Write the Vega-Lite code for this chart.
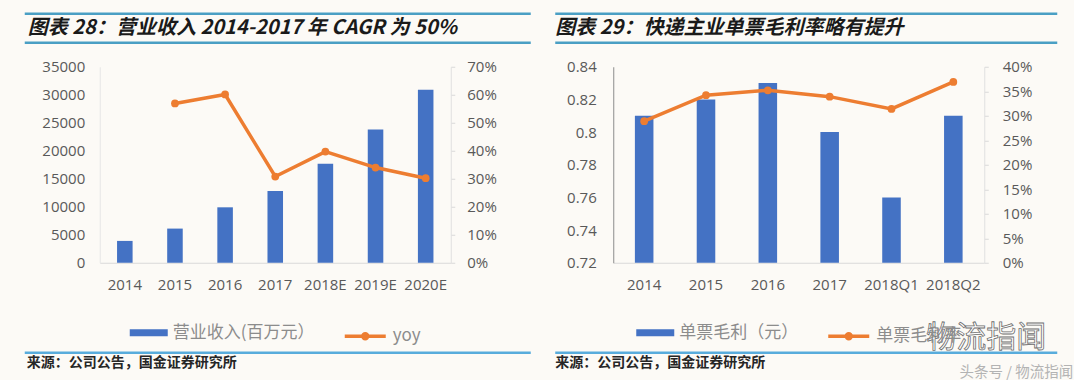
{
  "$schema": "https://vega.github.io/schema/vega-lite/v6.json",
  "background": "#fcfaf6",
  "padding": {"left": 22.75, "top": 11.75, "right": 0, "bottom": 0},
  "spacing": 15,
  "resolve": {"scale": {"fill": "independent", "stroke": "independent", "x": "independent", "y": "independent"}, "legend": {"fill": "independent", "stroke": "independent"}},
  "vconcat": [
    {
      "spacing": 20.5,
      "resolve": {"scale": {"fill": "independent", "stroke": "independent", "x": "independent", "y": "independent"}, "legend": {"fill": "independent", "stroke": "independent"}},
      "hconcat": [
        {
          "width": 431, "height": 29,
          "data": {"values": [{"t": "图表 28：营业收入 2014-2017 年 CAGR 为 50%"}]},
          "layer": [
            {"mark": {"type": "rule", "color": "#4a9fc4", "strokeWidth": 2.5},
             "encoding": {"x": {"datum": -0.174, "type": "quantitative", "scale": {"domain": [0, 1]}, "axis": null}, "x2": {"datum": 1},
                          "y": {"datum": 1, "type": "quantitative", "scale": {"domain": [0, 1]}, "axis": null}}},
            {"mark": {"type": "rule", "color": "#4a9fc4", "strokeWidth": 2.5},
             "encoding": {"x": {"datum": -0.174, "type": "quantitative", "axis": null}, "x2": {"datum": 1},
                          "y": {"datum": 0, "type": "quantitative", "axis": null}}},
            {"mark": {"type": "text", "align": "left", "baseline": "middle", "dx": 3, "font": "Noto Sans CJK SC", "fontSize": 20, "fontWeight": "bold", "fontStyle": "italic", "color": "#1a1a1a"},
             "encoding": {"x": {"datum": -0.174, "type": "quantitative", "axis": null},
                          "y": {"datum": 0.5, "type": "quantitative", "axis": null},
                          "text": {"field": "t"}}}
          ]
        },
        {
          "width": 443, "height": 29,
          "data": {"values": [{"t": "图表 29：快递主业单票毛利率略有提升"}]},
          "layer": [
            {"mark": {"type": "rule", "color": "#4a9fc4", "strokeWidth": 2.5},
             "encoding": {"x": {"datum": -0.1332, "type": "quantitative", "scale": {"domain": [0, 1]}, "axis": null}, "x2": {"datum": 1},
                          "y": {"datum": 1, "type": "quantitative", "scale": {"domain": [0, 1]}, "axis": null}}},
            {"mark": {"type": "rule", "color": "#4a9fc4", "strokeWidth": 2.5},
             "encoding": {"x": {"datum": -0.1332, "type": "quantitative", "axis": null}, "x2": {"datum": 1},
                          "y": {"datum": 0, "type": "quantitative", "axis": null}}},
            {"mark": {"type": "text", "align": "left", "baseline": "middle", "dx": 0, "font": "Noto Sans CJK SC", "fontSize": 20, "letterSpacing": 1.2, "fontWeight": "bold", "fontStyle": "italic", "color": "#1a1a1a"},
             "encoding": {"x": {"datum": -0.1332, "type": "quantitative", "axis": null},
                          "y": {"datum": 0.5, "type": "quantitative", "axis": null},
                          "text": {"field": "t"}}}
          ]
        }
      ]
    },
    {
      "spacing": -2,
      "resolve": {"scale": {"fill": "independent", "stroke": "independent", "x": "independent", "y": "independent"}, "legend": {"fill": "independent", "stroke": "independent"}},
      "vconcat": [
        {
          "spacing": 57.5,
          "resolve": {"scale": {"fill": "independent", "stroke": "independent", "x": "independent", "y": "independent"}, "legend": {"fill": "independent", "stroke": "independent"}},
          "hconcat": [
            {
              "width": 351, "height": 196,
              "data": {"values": [
                {"year": "2014", "revenue": 3900, "yoy": null},
                {"year": "2015", "revenue": 6100, "yoy": 0.569},
                {"year": "2016", "revenue": 9900, "yoy": 0.601},
                {"year": "2017", "revenue": 12800, "yoy": 0.308},
                {"year": "2018E", "revenue": 17700, "yoy": 0.397},
                {"year": "2019E", "revenue": 23800, "yoy": 0.340},
                {"year": "2020E", "revenue": 30900, "yoy": 0.302}
              ]},
              "encoding": {"x": {"field": "year", "type": "ordinal", "sort": null, "scale": {"paddingInner": 0, "paddingOuter": 0},
                                 "axis": {"title": null, "labelAngle": 0, "ticks": false, "tickSize": 0, "labelPadding": 15, "domainColor": "#d9d9d9"}}},
              "layer": [
                {"mark": {"type": "bar", "width": {"band": 0.31}},
                 "encoding": {
                   "y": {"field": "revenue", "type": "quantitative", "scale": {"domain": [0, 35000]},
                         "axis": {"title": null, "orient": "left", "values": [0, 5000, 10000, 15000, 20000, 25000, 30000, 35000], "format": "d", "ticks": false, "tickSize": 0, "labelPadding": 15, "domainColor": "#e6e6e6", "minExtent": 75}},
                   "fill": {"datum": "营业收入(百万元）", "type": "nominal", "scale": {"range": ["#4472c4"]},
                            "legend": {"title": null, "orient": "bottom", "symbolType": "M-1,-0.184H1V0.184H-1Z", "symbolSize": 1444, "symbolStrokeWidth": 0}}
                 }},
                {"mark": {"type": "line", "strokeWidth": 3.5},
                 "encoding": {
                   "y": {"field": "yoy", "type": "quantitative", "scale": {"domain": [0, 0.7]},
                         "axis": {"title": null, "orient": "right", "values": [0, 0.1, 0.2, 0.3, 0.4, 0.5, 0.6, 0.7], "format": ".0%", "tickSize": 4, "labelPadding": 12, "domainColor": "#e0e0e0", "tickColor": "#d9d9d9"}},
                   "stroke": {"datum": "yoy", "type": "nominal", "scale": {"range": ["#ed7d31"]},
                              "legend": {"title": null, "orient": "bottom", "symbolType": "M-1,0H1M-0.12,0A0.12,0.12,0,1,0,0.12,0A0.12,0.12,0,1,0,-0.12,0", "symbolSize": 1681, "symbolStrokeWidth": 3.5, "symbolFillColor": "#ed7d31"}}
                 }},
                {"mark": {"type": "point", "filled": true, "size": 60, "color": "#ed7d31", "opacity": 1},
                 "encoding": {"y": {"field": "yoy", "type": "quantitative", "scale": {"domain": [0, 0.7]}, "axis": null}}}
              ],
              "resolve": {"scale": {"y": "independent", "fill": "independent", "stroke": "independent"}}
            },
            {
              "width": 371, "height": 196,
              "data": {"values": [
                {"period": "2014", "profit": 0.81, "rate": 0.289},
                {"period": "2015", "profit": 0.82, "rate": 0.342},
                {"period": "2016", "profit": 0.83, "rate": 0.352},
                {"period": "2017", "profit": 0.80, "rate": 0.339},
                {"period": "2018Q1", "profit": 0.76, "rate": 0.314},
                {"period": "2018Q2", "profit": 0.81, "rate": 0.369}
              ]},
              "encoding": {"x": {"field": "period", "type": "ordinal", "sort": null, "scale": {"paddingInner": 0, "paddingOuter": 0},
                                 "axis": {"title": null, "labelAngle": 0, "ticks": false, "tickSize": 0, "labelPadding": 15, "domainColor": "#d9d9d9"}}},
              "layer": [
                {"mark": {"type": "bar", "width": {"band": 0.3}},
                 "encoding": {
                   "y": {"field": "profit", "type": "quantitative", "scale": {"domain": [0.72, 0.84], "zero": false},
                         "axis": {"title": null, "orient": "left", "values": [0.72, 0.74, 0.76, 0.78, 0.8, 0.82, 0.84], "format": "~g", "ticks": false, "tickSize": 0, "labelPadding": 17, "domainColor": "#8c8c8c", "minExtent": 59}},
                   "y2": {"datum": 0.72},
                   "fill": {"datum": "单票毛利（元）", "type": "nominal", "scale": {"range": ["#4472c4"]},
                            "legend": {"title": null, "orient": "bottom", "symbolType": "M-1,-0.184H1V0.184H-1Z", "symbolSize": 1444, "symbolStrokeWidth": 0}}
                 }},
                {"mark": {"type": "line", "strokeWidth": 3.5},
                 "encoding": {
                   "y": {"field": "rate", "type": "quantitative", "scale": {"domain": [0, 0.4]},
                         "axis": {"title": null, "orient": "right", "values": [0, 0.05, 0.1, 0.15, 0.2, 0.25, 0.3, 0.35, 0.4], "format": ".0%", "tickSize": 4, "labelPadding": 14, "domainColor": "#e0e0e0", "tickColor": "#d9d9d9"}},
                   "stroke": {"datum": "单票毛利率", "type": "nominal", "scale": {"range": ["#ed7d31"]},
                              "legend": {"title": null, "orient": "bottom", "symbolType": "M-1,0H1M-0.12,0A0.12,0.12,0,1,0,0.12,0A0.12,0.12,0,1,0,-0.12,0", "symbolSize": 1681, "symbolStrokeWidth": 3.5, "symbolFillColor": "#ed7d31"}}
                 }},
                {"mark": {"type": "point", "filled": true, "size": 60, "color": "#ed7d31", "opacity": 1},
                 "encoding": {"y": {"field": "rate", "type": "quantitative", "scale": {"domain": [0, 0.4]}, "axis": null}}},
                {"data": {"values": [{"w": "物流指闻"}]},
                 "mark": {"type": "text", "align": "right", "baseline": "middle", "dx": 93, "dy": 75, "font": "Noto Sans CJK SC", "fontSize": 30, "fill": "#ffffff", "stroke": "#6e6e6e", "strokeWidth": 0.8},
                 "encoding": {"x": {"datum": "2018Q2"},
                              "y": {"datum": 0.72, "type": "quantitative", "scale": {"domain": [0.72, 0.84], "zero": false}, "axis": null},
                              "text": {"field": "w"}}}
              ],
              "resolve": {"scale": {"y": "independent", "fill": "independent", "stroke": "independent"}}
            }
          ]
        },
        {
          "spacing": 20.5,
          "resolve": {"scale": {"fill": "independent", "stroke": "independent", "x": "independent", "y": "independent"}, "legend": {"fill": "independent", "stroke": "independent"}},
          "hconcat": [
            {
              "width": 431, "height": 20,
              "data": {"values": [{"t": "来源：公司公告，国金证券研究所"}]},
              "layer": [
                {"mark": {"type": "rule", "color": "#58acdc", "strokeWidth": 2.5},
                 "encoding": {"x": {"datum": -0.174, "type": "quantitative", "scale": {"domain": [0, 1]}, "axis": null}, "x2": {"datum": 1},
                              "y": {"datum": 1, "type": "quantitative", "scale": {"domain": [0, 1]}, "axis": null}}},
                {"mark": {"type": "text", "align": "left", "baseline": "middle", "dx": 2, "font": "Noto Sans CJK SC", "fontSize": 14, "fontWeight": "bold", "color": "#262626"},
                 "encoding": {"x": {"datum": -0.174, "type": "quantitative", "axis": null},
                              "y": {"datum": 0.5, "type": "quantitative", "axis": null},
                              "text": {"field": "t"}}}
              ]
            },
            {
              "width": 443, "height": 20,
              "data": {"values": [{"t": "来源：公司公告，国金证券研究所", "w": "头条号 / 物流指闻"}]},
              "layer": [
                {"mark": {"type": "rule", "color": "#58acdc", "strokeWidth": 2.5},
                 "encoding": {"x": {"datum": -0.1332, "type": "quantitative", "scale": {"domain": [0, 1]}, "axis": null}, "x2": {"datum": 1},
                              "y": {"datum": 1, "type": "quantitative", "scale": {"domain": [0, 1]}, "axis": null}}},
                {"mark": {"type": "text", "align": "left", "baseline": "middle", "dx": 0, "font": "Noto Sans CJK SC", "fontSize": 14, "fontWeight": "bold", "color": "#262626"},
                 "encoding": {"x": {"datum": -0.1332, "type": "quantitative", "axis": null},
                              "y": {"datum": 0.5, "type": "quantitative", "axis": null},
                              "text": {"field": "t"}}},
                {"mark": {"type": "text", "align": "right", "baseline": "middle", "dx": 16, "dy": 10, "font": "Noto Sans CJK SC", "fontSize": 14.5, "color": "#b3b3b3"},
                 "encoding": {"x": {"datum": 1, "type": "quantitative", "axis": null},
                              "y": {"datum": 0.5, "type": "quantitative", "axis": null},
                              "text": {"field": "w"}}}
              ]
            }
          ]
        }
      ]
    }
  ],
  "config": {
    "view": {"stroke": null},
    "font": "Open Sans",
    "axis": {"labelFont": "Open Sans", "labelFontSize": 15, "labelColor": "#595959", "grid": false, "domainWidth": 1, "tickWidth": 1},
    "legend": {"labelFont": "Noto Sans CJK SC", "labelFontSize": 17, "labelColor": "#8c8c8c", "labelOffset": 5, "padding": 0, "offset": 21, "orient": "bottom", "direction": "horizontal",
               "layout": {"bottom": {"anchor": "middle", "direction": "horizontal", "margin": 28}}}
  }
}
